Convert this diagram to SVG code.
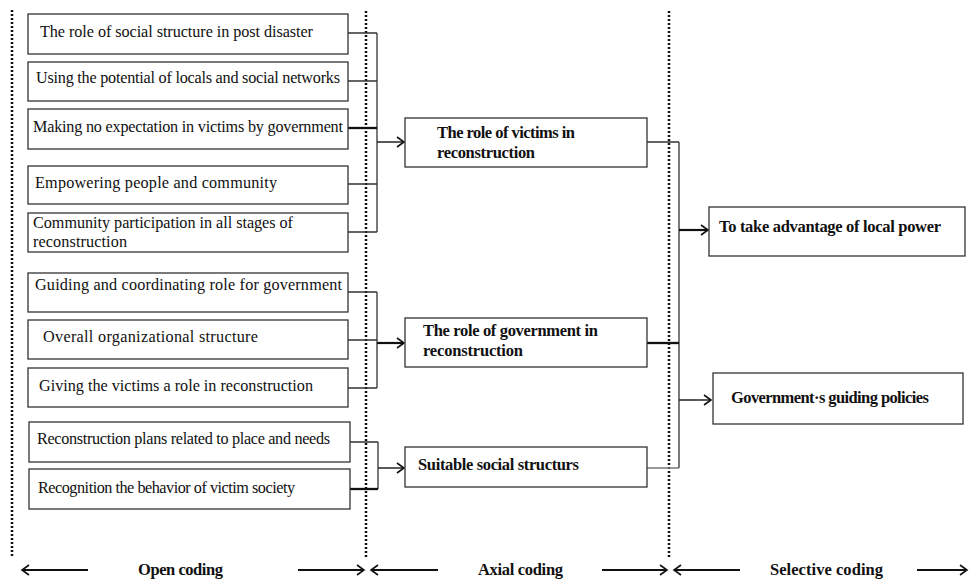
<svg xmlns="http://www.w3.org/2000/svg" width="971" height="581" viewBox="0 0 971 581">
<defs>
<style>
.box{fill:#fff;stroke:#333;stroke-width:1.3}
.t{font-family:"Liberation Serif","Times New Roman",serif;font-size:16.2px;fill:#111}
.b{font-family:"Liberation Serif","Times New Roman",serif;font-size:16.5px;font-weight:bold;fill:#111}
.dot{stroke:#111;stroke-width:2.5;stroke-dasharray:2 2;fill:none}
.c{stroke:#333;stroke-width:1.3;fill:none}
.ct{stroke:#111;stroke-width:2.3;fill:none}
.cg{stroke:#777;stroke-width:1.5;fill:none}
.a{stroke:#222;stroke-width:1.5;fill:none;marker-end:url(#ah)}
.at{stroke:#111;stroke-width:2.2;fill:none;marker-end:url(#ah)}
</style>
<marker id="ah" markerWidth="12" markerHeight="12" refX="9" refY="6" orient="auto" markerUnits="userSpaceOnUse">
<path d="M2,1 L9,6 L2,11" fill="none" stroke="#111" stroke-width="1.6"/>
</marker>
</defs>
<rect width="971" height="581" fill="#fff"/>

<g id="dividers">
<line class="dot" x1="12" y1="10" x2="12" y2="557"/>
<line class="dot" x1="366" y1="11" x2="366" y2="557"/>
<line class="dot" x1="669" y1="11" x2="669" y2="557"/>
</g>

<g id="connectors">
<path class="c" d="M348,33 H377 M348,81 H377 M348,184 H377 M348,232 H377 M377,33 V232"/>
<path class="ct" d="M348,128 H377"/>
<path class="a" d="M377,142 H404"/>
<path class="c" d="M348,292 H377 M348,340 H377 M348,388 H377 M377,292 V388"/>
<path class="at" d="M377,343 H404"/>
<path class="c" d="M350,442 H378 M378,442 V489"/>
<path class="ct" d="M350,489 H378"/>
<path class="a" d="M378,468 H404"/>
<path class="c" d="M647,142 H679 M679,142 V468"/>
<path class="ct" d="M647,343 H679"/>
<path class="cg" d="M647,468 H679"/>
<path class="at" d="M679,230 H708"/>
<path class="a" d="M679,400 H711"/>
<path class="at" d="M88,570 H22"/>
<path class="at" d="M298,570 H364"/>
<path class="at" d="M438,570 H371"/>
<path class="at" d="M602,570 H667"/>
<path class="at" d="M740,570 H674"/>
<path class="at" d="M917,570 H967"/>
</g>

<g id="n1"><rect class="box" x="28" y="14" width="320" height="40"/><text class="t" x="40" y="37" textLength="273">The role of social structure in post disaster</text></g>
<g id="n2"><rect class="box" x="28" y="62" width="320" height="39"/><text class="t" x="36" y="83" textLength="304">Using the potential of locals and social networks</text></g>
<g id="n3"><rect class="box" x="28" y="109" width="320" height="40"/><text class="t" x="33" y="132" textLength="310">Making no expectation in victims by government</text></g>
<g id="n4"><rect class="box" x="28" y="166" width="320" height="38"/><text class="t" x="35" y="188" textLength="242">Empowering people and community</text></g>
<g id="n5"><rect class="box" x="28" y="213" width="320" height="39"/><text class="t" x="33" y="228" textLength="260">Community participation in all stages of</text><text class="t" x="33" y="247" textLength="94">reconstruction</text></g>
<g id="n6"><rect class="box" x="28" y="273" width="320" height="39"/><text class="t" x="35" y="290" textLength="307">Guiding and coordinating role for government</text></g>
<g id="n7"><rect class="box" x="28" y="320" width="320" height="39"/><text class="t" x="43" y="342" textLength="215">Overall organizational structure</text></g>
<g id="n8"><rect class="box" x="28" y="368" width="320" height="39"/><text class="t" x="39" y="391" textLength="274">Giving the victims a role in reconstruction</text></g>
<g id="n9"><rect class="box" x="29" y="422" width="321" height="40"/><text class="t" x="37" y="444" textLength="293">Reconstruction plans related to place and needs</text></g>
<g id="n10"><rect class="box" x="29" y="469" width="321" height="40"/><text class="t" x="38" y="493" textLength="257">Recognition the behavior of victim society</text></g>

<g id="a1"><rect class="box" x="405" y="118" width="242" height="49"/><text class="b" x="437" y="138" textLength="138">The role of victims in</text><text class="b" x="437" y="158" textLength="98">reconstruction</text></g>
<g id="a2"><rect class="box" x="405" y="318" width="242" height="49"/><text class="b" x="423" y="336" textLength="175">The role of government in</text><text class="b" x="423" y="356" textLength="100">reconstruction</text></g>
<g id="a3"><rect class="box" x="405" y="447" width="242" height="40"/><text class="b" x="418" y="470" textLength="161">Suitable social structurs</text></g>

<g id="s1"><rect class="box" x="709" y="207" width="256" height="49"/><text class="b" x="719" y="232" textLength="222">To take advantage of local power</text></g>
<g id="s2"><rect class="box" x="713" y="373" width="250" height="51"/><text class="b" x="731" y="403" textLength="198">Government·s guiding policies</text></g>

<g id="labels">
<text class="b" x="138" y="575" textLength="85">Open coding</text>
<text class="b" x="478" y="575" textLength="85">Axial coding</text>
<text class="b" x="770" y="575" textLength="113">Selective coding</text>
</g>
</svg>
